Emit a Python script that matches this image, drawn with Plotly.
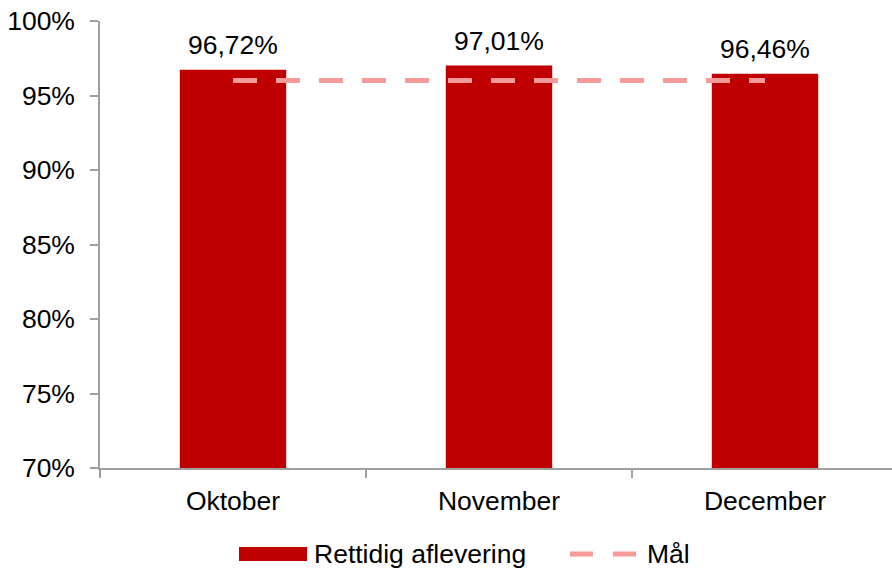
import plotly.graph_objects as go

# Monthly on-time delivery rate vs. target
months = ["Oktober", "November", "December"]
on_time = [96.72, 97.01, 96.46]
target = [96, 96, 96]

W, H = 892, 569
ML, MR, MT, MB = 100, 0, 21, 101
plot_w = W - ML - MR
plot_h = H - MT - MB

BAR = "#C00000"
GOAL = "#F69A9A"
AXIS = "#A0A0A0"
FONT = "Liberation Sans, Arial, sans-serif"
FS = 26.5


def px_x(x):
    return (x - ML) / plot_w


def px_y(y):
    return (H - MB - y) / plot_h


fig = go.Figure()
fig.add_trace(go.Bar(
    x=months, y=on_time, marker_color=BAR, marker_line_width=0,
    name="Rettidig aflevering", showlegend=False,
))
fig.add_trace(go.Scatter(
    x=months, y=target, mode="lines", name="Mål", showlegend=False,
    line=dict(color=GOAL, width=5, dash="24px,19px"),
))

for m, v in zip(months, on_time):
    fig.add_annotation(
        x=m, y=v, text=f"{v:.2f}".replace(".", ",") + "%",
        showarrow=False, yanchor="middle", yshift=25,
        font=dict(family=FONT, size=FS, color="#000000"),
    )

# Legend drawn by hand: wide bar swatch and dashed goal swatch
fig.add_shape(type="rect", xref="paper", yref="paper",
              x0=px_x(239), x1=px_x(307), y0=px_y(561), y1=px_y(547),
              fillcolor=BAR, line_width=0)
fig.add_annotation(xref="paper", yref="paper", x=px_x(312), y=px_y(554),
                   text="Rettidig aflevering", showarrow=False,
                   xanchor="left", yanchor="middle",
                   font=dict(family=FONT, size=FS, color="#000000"))
for a, b in [(570, 593), (613, 636)]:
    fig.add_shape(type="line", xref="paper", yref="paper",
                  x0=px_x(a), x1=px_x(b), y0=px_y(554), y1=px_y(554),
                  line=dict(color=GOAL, width=5))
fig.add_annotation(xref="paper", yref="paper", x=px_x(645), y=px_y(554),
                   text="Mål", showarrow=False,
                   xanchor="left", yanchor="middle",
                   font=dict(family=FONT, size=FS, color="#000000"))

fig.update_layout(
    width=W, height=H,
    margin=dict(l=ML, r=MR, t=MT, b=MB, pad=0),
    plot_bgcolor="white", paper_bgcolor="white",
    bargap=0.6, showlegend=False,
    font=dict(family=FONT, size=FS, color="#000000"),
)
fig.update_xaxes(
    range=[-0.5, -0.5 + plot_w / 266], showgrid=False,
    showline=True, linecolor=AXIS, linewidth=1.5,
    ticks="outside", tickson="boundaries", ticklen=8, tickcolor=AXIS,
    tickwidth=1.5, ticklabelstandoff=8,
)
fig.update_yaxes(
    range=[70, 100], dtick=5, ticksuffix="%", showgrid=False, zeroline=False,
    showline=True, linecolor=AXIS, linewidth=1.5,
    ticks="outside", ticklen=8, tickcolor=AXIS, tickwidth=1.5,
    ticklabelstandoff=10,
)

fig.write_html("out.html")
